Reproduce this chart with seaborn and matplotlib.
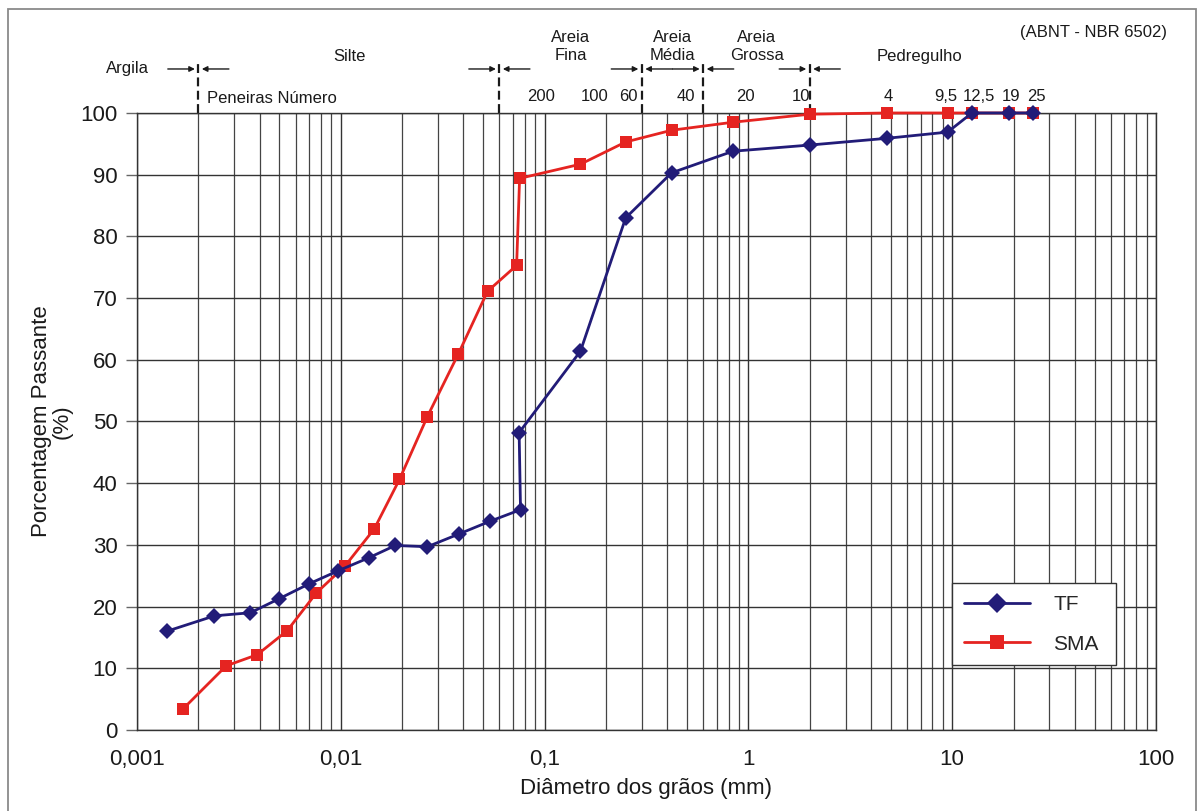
import matplotlib
matplotlib.use('Agg')
import matplotlib.pyplot as plt
import matplotlib.ticker as mticker
import matplotlib.transforms as mtransforms
from matplotlib.patches import Rectangle
import pandas as pd
import seaborn as sns

# Curvas granulometricas (diametro em mm, % passante)
tf_diam = [0.0014, 0.0024, 0.0036, 0.0050, 0.0070, 0.0097, 0.0137, 0.0185, 0.0266,
           0.0382, 0.0537, 0.0762, 0.075, 0.150, 0.250, 0.420, 0.840, 2.0, 4.8, 9.5,
           12.5, 19.0, 25.0]
tf_pass = [16.0, 18.5, 19.0, 21.3, 23.7, 25.8, 27.9, 29.9, 29.7,
           31.8, 33.8, 35.7, 48.2, 61.4, 83.0, 90.3, 93.8, 94.8, 95.9, 96.9,
           100.0, 100.0, 100.0]

sma_diam = [0.00168, 0.00274, 0.00389, 0.00546, 0.00758, 0.0105, 0.0146, 0.0194, 0.0266,
            0.0378, 0.0525, 0.0729, 0.0754, 0.150, 0.250, 0.420, 0.840, 2.0, 4.8, 9.5,
            12.5, 19.0, 25.0]
sma_pass = [3.4, 10.4, 12.2, 16.1, 22.2, 26.6, 32.6, 40.6, 50.8,
            61.0, 71.1, 75.3, 89.4, 91.7, 95.3, 97.2, 98.5, 99.8, 100.0, 100.0,
            100.0, 100.0, 100.0]

# limites das fracoes (ABNT NBR 6502) e nomes
limites = [0.002, 0.06, 0.3, 0.6, 2.0]
fracoes = ['Argila', 'Silte', 'Areia\nFina', 'Areia\nMédia', 'Areia\nGrossa', 'Pedregulho']
fracoes_x = [0.0009, 0.011, 0.134, 0.425, 1.10, 6.9]

# numeros das peneiras
peneiras = ['200', '100', '60', '40', '20', '10', '4', '9,5', '12,5', '19', '25']
peneiras_x = [0.0966, 0.176, 0.259, 0.493, 0.962, 1.81, 4.85, 9.35, 13.6, 19.5, 25.9]

x_ticks = [0.001, 0.01, 0.1, 1, 10, 100]
x_labels = ['0,001', '0,01', '0,1', '1', '10', '100']

df_tf = pd.DataFrame({'diam': tf_diam, 'passante': tf_pass})
df_sma = pd.DataFrame({'diam': sma_diam, 'passante': sma_pass})

sns.set_theme(style='white')
plt.rcParams['font.family'] = ['Liberation Sans', 'DejaVu Sans']

fig = plt.figure(figsize=(12.04, 8.11), dpi=100)
ax = fig.add_axes([0.1138, 0.0999, 0.8463, 0.7608])

navy = '#221c78'
red = '#e52421'

sns.lineplot(data=df_sma, x='diam', y='passante', sort=False, estimator=None,
             color=red, marker='s', markersize=8.5, markeredgewidth=0, linewidth=2,
             label='SMA', ax=ax, zorder=3, clip_on=False)
sns.lineplot(data=df_tf, x='diam', y='passante', sort=False, estimator=None,
             color=navy, marker='D', markersize=8.5, markeredgewidth=0, linewidth=2,
             label='TF', ax=ax, zorder=4, clip_on=False)

ax.set_xscale('log')
ax.set_xlim(0.001, 100)
ax.set_ylim(0, 100)
ax.set_xticks(x_ticks)
ax.set_xticklabels(x_labels)
ax.xaxis.set_minor_locator(mticker.LogLocator(base=10, subs=range(2, 10), numticks=20))
ax.xaxis.set_minor_formatter(mticker.NullFormatter())
ax.set_yticks(range(0, 101, 10))

ax.grid(which='major', axis='both', color='#333333', linewidth=1.0)
ax.grid(which='minor', axis='x', color='#444444', linewidth=0.9)
for sp in ax.spines.values():
    sp.set_color('#333333')
    sp.set_linewidth(1.0)

ax.tick_params(axis='x', which='both', length=0, pad=14, labelsize=16, colors='#1a1a1a')
ax.tick_params(axis='y', which='major', direction='out', length=8, width=1,
               color='#666666', pad=6, labelsize=16, labelcolor='#1a1a1a', left=True)

ax.set_xlabel('Diâmetro dos grãos (mm)', fontsize=16, color='#1a1a1a')
ax.set_ylabel('Porcentagem Passante\n(%)', fontsize=16, color='#1a1a1a', linespacing=1.0)
ax.xaxis.set_label_coords(0.5, -0.078)
ax.yaxis.set_label_coords(-0.063, 0.5)

# anotacoes superiores
trans = mtransforms.blended_transform_factory(ax.transData, ax.transAxes)
for b in limites:
    ax.axvline(b, ymin=1.0, ymax=1.083, color='#1a1a1a', linewidth=1.6,
               linestyle=(0, (4, 2)), clip_on=False)
    for side in (-1, 1):
        ax.annotate('', xy=(b, 1.0713), xycoords=trans,
                    xytext=(side * 22, 0), textcoords='offset points',
                    arrowprops=dict(arrowstyle='-|>', color='#1a1a1a', lw=1.0,
                                    mutation_scale=8, shrinkA=0, shrinkB=2.5),
                    annotation_clip=False)

frac_y = [1.0713, 1.091, 1.107, 1.107, 1.107, 1.091]
for nome, xv, yv in zip(fracoes, fracoes_x, frac_y):
    ax.text(xv, yv, nome, transform=trans, ha='center', va='center',
            fontsize=12, color='#1a1a1a', linespacing=1.25)

ax.text(0.0046, 1.0227, 'Peneiras Número', transform=trans, ha='center', va='center',
        fontsize=12, color='#1a1a1a')
for nome, xv in zip(peneiras, peneiras_x):
    ax.text(xv, 1.026, nome, transform=trans, ha='center', va='center',
            fontsize=12, color='#1a1a1a')
ax.text(49.3, 1.130, '(ABNT - NBR 6502)', transform=trans, ha='center', va='center',
        fontsize=12, color='#1a1a1a')

# legenda
handles, labels = ax.get_legend_handles_labels()
order = [labels.index('TF'), labels.index('SMA')]
leg = ax.legend([handles[i] for i in order], [labels[i] for i in order],
                loc='lower left', bbox_to_anchor=(0.8, 0.105, 0.161, 0.13), mode='expand',
                borderaxespad=0, fontsize=15, frameon=True, fancybox=False, framealpha=1,
                edgecolor='#333333', borderpad=0.55, handlelength=3.2,
                handletextpad=1.1, labelspacing=1.0, markerscale=1.15)
leg.get_frame().set_linewidth(1.0)

# moldura da figura
fig.patches.append(Rectangle((8 / 1204, -0.02), 1188 / 1204, 1.02 - 9 / 811,
                             transform=fig.transFigure, fill=False,
                             edgecolor='#8a8a8a', linewidth=1.3))

fig.savefig('out.png', dpi=100)
